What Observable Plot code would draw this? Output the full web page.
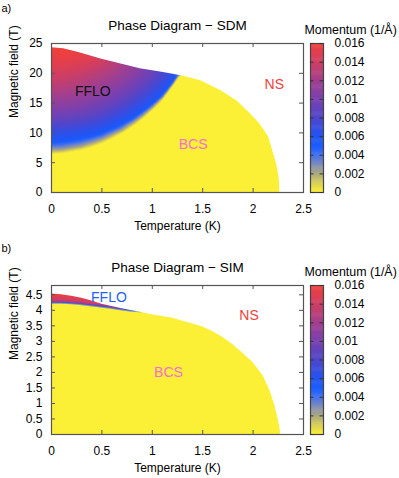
<!DOCTYPE html>
<html>
<head>
<meta charset="utf-8">
<script src="https://cdn.jsdelivr.net/npm/d3@7"></script>
<script src="https://cdn.jsdelivr.net/npm/@observablehq/plot@0.6"></script>
<style>
  body { margin: 0; background: #fff; }
  #chart { position: relative; width: 399px; height: 478px; background: #fff; }
  #chart svg { position: absolute; max-width: none; }
</style>
</head>
<body>
<div id="chart"></div>
<script>
// ---------------- data ----------------
const tempTicks = [0, 0.5, 1, 1.5, 2, 2.5];
const sdmFieldTicks = [0, 5, 10, 15, 20, 25];
const simFieldTicks = [0, 0.5, 1, 1.5, 2, 2.5, 3, 3.5, 4, 4.5];
const momentumTicks = [0, 0.002, 0.004, 0.006, 0.008, 0.01, 0.012, 0.014, 0.016];

// SDM: upper critical field (edge of the superconducting region)
const sdmHcT = [0, 0.12, 0.27, 0.49, 0.68, 0.88, 1.08, 1.23, 1.48, 1.68, 1.84, 1.975, 2.07, 2.156, 2.205, 2.235, 2.26, 2.265];
const sdmHcH = [24.3, 24.1, 23.5, 22.4, 21.6, 20.75, 20.2, 19.8, 18.8, 17.1, 15.4, 13.2, 11.5, 9.3, 6.5, 4.8, 2.5, 0];
// SDM: momentum along the upper critical field (same T as sdmHcT, first 8 points)
const sdmHcQ = [0.016, 0.016, 0.0155, 0.0143, 0.0125, 0.0105, 0.0082, 0.0058];

// SDM: momentum iso-lines read from the colour field, [T, H]
const sdmIsoLevels = [0, 0.0025, 0.0055, 0.007, 0.009, 0.011, 0.013, 0.015];
const sdmIso0 = [[0, 6.4], [0.1, 6.5], [0.2, 6.8], [0.3, 7.1], [0.4, 7.6], [0.5, 8.2], [0.6, 9.0], [0.7, 9.9], [0.8, 11.0], [0.85, 11.6], [0.9, 12.3], [0.95, 13.0], [1.0, 13.8], [1.05, 14.6], [1.1, 15.5], [1.15, 16.6], [1.2, 17.8], [1.25, 19.0], [1.28, 19.6]];
const sdmIso1 = [[0, 7.2], [0.1, 7.3], [0.2, 7.6], [0.3, 7.9], [0.4, 8.4], [0.5, 9.0], [0.6, 9.8], [0.7, 10.6], [0.8, 11.7], [0.85, 12.3], [0.9, 12.9], [0.95, 13.6], [1.0, 14.3], [1.05, 15.1], [1.1, 15.9], [1.15, 17.0], [1.2, 18.1], [1.25, 19.4]];
const sdmIso2 = [[0, 8.6], [0.1, 8.7], [0.2, 8.9], [0.3, 9.2], [0.4, 9.6], [0.5, 10.1], [0.6, 10.8], [0.7, 11.6], [0.8, 12.5], [0.85, 13.1], [0.9, 13.7], [0.95, 14.3], [1.0, 15.0], [1.05, 15.7], [1.1, 16.5], [1.15, 17.5], [1.2, 18.6], [1.23, 19.3], [1.25, 19.75]];
const sdmIso3 = [[0, 10.3], [0.1, 10.4], [0.2, 10.6], [0.3, 10.9], [0.4, 11.3], [0.5, 11.8], [0.6, 12.5], [0.7, 13.3], [0.8, 14.3], [0.9, 15.4], [0.95, 16.1], [1.0, 16.8], [1.05, 17.6], [1.1, 18.4], [1.15, 19.4]];
const sdmIso4 = [[0, 12.3], [0.1, 12.4], [0.2, 12.6], [0.3, 12.9], [0.4, 13.4], [0.5, 14.0], [0.6, 14.8], [0.7, 15.7], [0.8, 16.8], [0.9, 18.0], [0.95, 18.8], [1.0, 19.6], [1.03, 20.2]];
const sdmIso5 = [[0, 14.8], [0.1, 14.9], [0.2, 15.2], [0.3, 15.6], [0.4, 16.2], [0.5, 16.9], [0.6, 17.8], [0.7, 18.9], [0.8, 20.2], [0.82, 20.8]];
const sdmIso6 = [[0, 17.8], [0.1, 18.0], [0.2, 18.3], [0.3, 18.9], [0.4, 19.6], [0.5, 20.4], [0.6, 21.4], [0.64, 21.75]];
const sdmIso7 = [[0, 21.2], [0.1, 21.5], [0.2, 21.9], [0.3, 22.3], [0.4, 22.75]];
// SDM: plain-BCS points (zero momentum) around the FFLO region, [T, H]
const sdmBcsPts = [[0, 5], [0.5, 5], [1.0, 5], [1.4, 5], [1.4, 10], [1.4, 15], [1.4, 19.2], [1.32, 19.6]];

// SIM: upper critical field
const simHcT = [0, 0.1, 0.2, 0.3, 0.4, 0.5, 0.6, 0.7, 0.8, 0.9, 1.0, 1.1, 1.2, 1.3, 1.4, 1.5, 1.6, 1.7, 1.8, 1.9, 2.0, 2.1, 2.17, 2.22, 2.25, 2.27, 2.27];
const simHcH = [4.53, 4.50, 4.45, 4.39, 4.30, 4.20, 4.12, 4.05, 3.99, 3.93, 3.86, 3.81, 3.75, 3.66, 3.57, 3.47, 3.32, 3.13, 2.90, 2.62, 2.32, 1.90, 1.40, 0.90, 0.50, 0.15, 0];
// SIM: momentum samples in the thin FFLO wedge
const simQT = [0, 0, 0, 0, 0.1, 0.1, 0.1, 0.1, 0.2, 0.2, 0.2, 0.2, 0.3, 0.3, 0.3, 0.3, 0.4, 0.4, 0.4, 0.4, 0.5, 0.5, 0.5, 0.6, 0.6, 0.6, 0.7, 0.7, 0.7, 0.8, 0.8, 0.9, 0, 0.9, 0.9, 0];
const simQH = [4.21, 4.25, 4.29, 4.53, 4.21, 4.25, 4.29, 4.50, 4.19, 4.23, 4.27, 4.45, 4.16, 4.20, 4.24, 4.39, 4.12, 4.16, 4.20, 4.30, 4.08, 4.12, 4.20, 4.04, 4.08, 4.12, 3.99, 4.03, 4.05, 3.95, 3.99, 3.93, 3.8, 3.8, 4.6, 4.6];
const simQV = [0, 0.006, 0.013, 0.016, 0, 0.006, 0.013, 0.0158, 0, 0.006, 0.013, 0.0155, 0, 0.006, 0.013, 0.0152, 0, 0.006, 0.013, 0.015, 0, 0.006, 0.0145, 0, 0.006, 0.013, 0, 0.006, 0.01, 0, 0.006, 0, 0, 0, 0, 0.016];

// annotations
const sdmLabels = ["FFLO", "BCS", "NS"];
const sdmLabelT = [0.41, 1.405, 2.21];
const sdmLabelH = [16.9, 8.05, 18.2];
const simLabels = ["FFLO", "BCS", "NS"];
const simLabelT = [0.57, 1.16, 1.96];
const simLabelH = [4.42, 2.0, 3.82];

// ---------------- styles ----------------
const FONT = "'Liberation Sans', Arial, Helvetica, sans-serif";
const YELLOW = "#fcf037";
const cmapStops = [0, 0.001, 0.002, 0.003, 0.004, 0.005, 0.006, 0.007, 0.008, 0.010, 0.012, 0.014, 0.016];
const cmapColors = ["#fcf037", "#d6cd58", "#aaa783", "#7d8bba", "#3f6ff0", "#1a5cff", "#2354f2", "#3a4ce0", "#5046cc", "#7a40b0", "#a43f8e", "#d03e62", "#f2403a"];
const labelColors = {FFLO: "#111111", BCS: "#f56fd6", NS: "#f0423a"};
const simLabelColors = {FFLO: "#2462f4", BCS: "#f56fd6", NS: "#f0423a"};
const colorScale = {type: "linear", domain: cmapStops, range: cmapColors, interpolate: "rgb", clamp: true};

// ---------------- build tables ----------------
const rows = (T, H) => T.map((t, i) => ({T: t, H: H[i]}));
const sdmSamples = [];
[sdmIso0, sdmIso1, sdmIso2, sdmIso3, sdmIso4, sdmIso5, sdmIso6, sdmIso7].forEach((line, k) =>
  line.forEach(([t, h]) => sdmSamples.push({T: t, H: h, q: sdmIsoLevels[k]})));
sdmHcQ.forEach((q, i) => sdmSamples.push({T: sdmHcT[i], H: sdmHcH[i], q}));
sdmBcsPts.forEach(([t, h]) => sdmSamples.push({T: t, H: h, q: 0}));
const simSamples = simQT.map((t, i) => ({T: t, H: simQH[i], q: simQV[i]}));

const chart = document.getElementById("chart");
const W = 399, ML = 51, MR = 96;
const innerW = W - ML - MR;

function panel(o) {
  const innerH = o.height - o.mt - o.mb;
  const hc = rows(o.hcT, o.hcH);
  const labs = o.labels.map((s, i) => ({s, T: o.labT[i], H: o.labH[i]}));
  const svg = Plot.plot({
    width: W, height: o.height,
    marginLeft: ML, marginRight: MR, marginTop: o.mt, marginBottom: o.mb,
    style: {background: "transparent", fontFamily: FONT, fontSize: "12px", overflow: "visible", color: "#000"},
    x: {domain: [0, 2.5]},
    y: {domain: [0, o.ymax]},
    color: colorScale,
    marks: [
      Plot.areaY(hc, {x: "T", y: "H", fill: YELLOW}),
      Plot.raster(o.samples, {x: "T", y: "H", fill: "q", interpolate: "barycentric",
        x1: o.box[0], x2: o.box[1], y1: o.box[2], y2: o.box[3]}),
      Plot.areaY(hc, {x: "T", y1: "H", y2: o.ymax, fill: "white"}),
      Plot.frame({stroke: "#555", strokeWidth: 1.2}),
      Plot.ruleX(tempTicks, {x: d => d, insetTop: innerH - 4, stroke: "#555"}),
      Plot.ruleX(tempTicks, {x: d => d, insetBottom: innerH - 4, stroke: "#555"}),
      Plot.ruleY(o.yTicks, {y: d => d, insetRight: innerW - 4, stroke: "#555"}),
      Plot.ruleY(o.yTicks, {y: d => d, insetLeft: innerW - 4, stroke: "#555"}),
      Plot.axisX({ticks: tempTicks, tickSize: 0, tickPadding: 12, tickFormat: d => String(d), label: null, fontSize: 12}),
      Plot.axisY({ticks: o.yTicks, tickSize: 0, tickPadding: 9, tickFormat: d => String(d), label: null, fontSize: 12}),
      Plot.text([o.title], {text: d => d, frameAnchor: "top", lineAnchor: "middle", dy: o.titleDy, fontSize: 13.5}),
      Plot.text(["Temperature (K)"], {text: d => d, frameAnchor: "bottom", lineAnchor: "middle", dy: 34, fontSize: 12}),
      Plot.text(["Magnetic field (T)"], {text: d => d, frameAnchor: "left", lineAnchor: "middle", rotate: -90, dx: -37, fontSize: 12}),
      Plot.text([o.letter], {text: d => d, frameAnchor: "top-left", lineAnchor: "middle", textAnchor: "start", dx: -50, dy: o.letterDy, fontSize: 11}),
      Plot.text(labs, {x: "T", y: "H", text: "s", lineAnchor: "middle", fill: d => o.labColors[d.s], fontSize: 14})
    ]
  });
  svg.style.left = "0px";
  svg.style.top = o.top + "px";
  chart.appendChild(svg);

  const ramp = d3.range(0, 0.016, 0.0001);
  const cb = Plot.plot({
    width: 103, height: o.height,
    marginLeft: 14, marginRight: 76, marginTop: o.mt, marginBottom: o.mb,
    style: {background: "transparent", fontFamily: FONT, fontSize: "12px", overflow: "visible", color: "#000"},
    x: {domain: [0, 1], axis: null},
    y: {domain: [0, 0.016], axis: null},
    color: colorScale,
    marks: [
      Plot.rect(ramp, {x1: 0, x2: 1, y1: d => d, y2: d => Math.min(0.016, d + 0.00016), fill: d => d + 0.00005}),
      Plot.frame({stroke: "#444", strokeWidth: 1.2}),
      Plot.ruleY(momentumTicks, {y: d => d, insetRight: 9.5, stroke: "#333"}),
      Plot.ruleY(momentumTicks, {y: d => d, insetLeft: 9.5, stroke: "#333"}),
      Plot.axisY({anchor: "right", ticks: momentumTicks, tickSize: 0, tickPadding: 11, tickFormat: d => String(d), label: null, fontSize: 12}),
      Plot.text(["Momentum (1/Å)"], {text: d => d, frameAnchor: "top-left", lineAnchor: "middle", textAnchor: "start", dx: -6, dy: o.cbTitleDy, fontSize: 12.4})
    ]
  });
  cb.style.left = "296px";
  cb.style.top = o.top + "px";
  chart.appendChild(cb);
}

panel({
  top: 0, height: 240, mt: 43, mb: 48, ymax: 25,
  hcT: sdmHcT, hcH: sdmHcH, yTicks: sdmFieldTicks, samples: sdmSamples,
  box: [0, 1.4, 5, 25], title: "Phase Diagram − SDM", titleDy: -18,
  letter: "a)", letterDy: -35, labels: sdmLabels, labT: sdmLabelT, labH: sdmLabelH,
  labColors: labelColors, cbTitleDy: -13
});
panel({
  top: 240, height: 238, mt: 45, mb: 44, ymax: 4.8,
  hcT: simHcT, hcH: simHcH, yTicks: simFieldTicks, samples: simSamples,
  box: [0, 0.9, 3.8, 4.6], title: "Phase Diagram − SIM", titleDy: -18.3,
  letter: "b)", letterDy: -37, labels: simLabels, labT: simLabelT, labH: simLabelH,
  labColors: simLabelColors, cbTitleDy: -13.3
});
</script>
</body>
</html>
